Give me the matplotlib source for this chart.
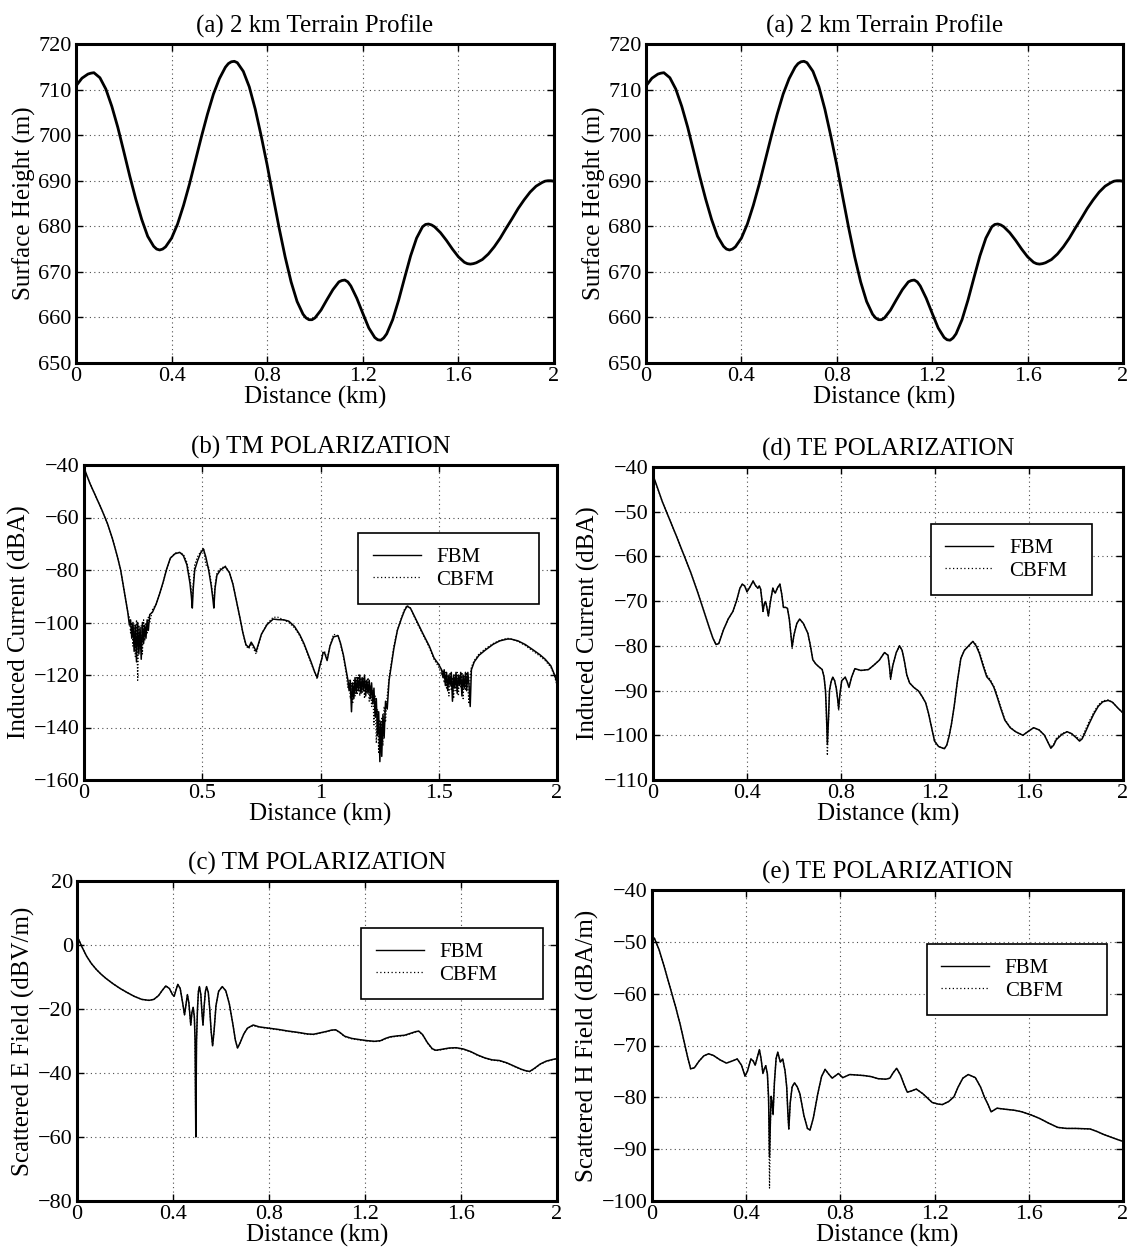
import matplotlib
matplotlib.use('Agg')
import matplotlib.pyplot as plt
from matplotlib.lines import Line2D

plt.rcParams['font.family'] = 'Liberation Serif'
plt.rcParams['axes.unicode_minus'] = True

# ---------------- data ----------------
# (a) terrain profile, km / m
terrain_x = [0.000, 0.025, 0.050, 0.0625, 0.075, 0.100, 0.125, 0.150, 0.175, 0.200,
             0.225, 0.250, 0.275, 0.300, 0.325, 0.3375, 0.350, 0.3625, 0.375, 0.400,
             0.425, 0.450, 0.475, 0.500, 0.525, 0.550, 0.575, 0.600, 0.625, 0.6375,
             0.650, 0.6625, 0.675, 0.700, 0.725, 0.750, 0.775, 0.800, 0.825, 0.850,
             0.875, 0.900, 0.925, 0.950, 0.9625, 0.975, 0.9875, 1.000, 1.025, 1.050,
             1.075, 1.100, 1.1125, 1.125, 1.1375, 1.150, 1.175, 1.200, 1.225, 1.250,
             1.2625, 1.275, 1.2875, 1.300, 1.325, 1.350, 1.375, 1.400, 1.425, 1.450,
             1.4625, 1.475, 1.4875, 1.500, 1.525, 1.550, 1.575, 1.600, 1.625, 1.6375,
             1.650, 1.6625, 1.675, 1.700, 1.725, 1.750, 1.775, 1.800, 1.825, 1.850,
             1.875, 1.900, 1.925, 1.950, 1.9625, 1.975, 1.9875, 2.000]
terrain_h = [710.8, 712.5, 713.4, 713.6, 713.7, 712.6, 710.1, 706.3, 701.7, 696.4,
             691.0, 686.0, 681.5, 677.8, 675.6, 675.0, 674.8, 675.0, 675.5, 677.4,
             680.5, 684.6, 689.3, 694.5, 699.7, 704.6, 709.0, 712.4, 714.9, 715.7,
             716.1, 716.2, 715.9, 714.0, 710.6, 705.7, 699.8, 693.4, 686.4, 679.6,
             673.3, 667.8, 663.5, 660.7, 659.9, 659.5, 659.5, 659.9, 661.6, 663.9,
             666.1, 667.8, 668.1, 668.2, 667.8, 666.9, 664.2, 660.9, 657.7, 655.6,
             655.1, 655.0, 655.5, 656.4, 659.5, 663.8, 668.7, 673.5, 677.4, 679.9,
             680.4, 680.5, 680.3, 679.9, 678.6, 676.9, 675.0, 673.3, 672.1, 671.8,
             671.7, 671.8, 672.0, 672.7, 673.9, 675.5, 677.4, 679.6, 681.7, 683.9,
             685.8, 687.5, 688.8, 689.6, 689.9, 690.0, 690.0, 689.9]

# (b) TM induced current, dBA
tm_cur_x = [0.000, 0.010, 0.025, 0.050, 0.075, 0.100, 0.120, 0.140, 0.155, 0.170,
            0.185, 0.192, 0.197, 0.202, 0.207, 0.212, 0.217, 0.222, 0.227, 0.232,
            0.237, 0.242, 0.247, 0.252, 0.257, 0.262, 0.267, 0.272, 0.278, 0.290,
            0.305, 0.320, 0.335, 0.350, 0.365, 0.385, 0.405, 0.420, 0.435, 0.448,
            0.454, 0.458, 0.462, 0.468, 0.480, 0.493, 0.505, 0.515, 0.527, 0.538,
            0.545, 0.549, 0.554, 0.562, 0.577, 0.597, 0.615, 0.630, 0.645, 0.660,
            0.672, 0.685, 0.697, 0.707, 0.717, 0.728, 0.738, 0.750, 0.774, 0.800,
            0.820, 0.845, 0.866, 0.890, 0.912, 0.930, 0.945, 0.960, 0.975, 0.986,
            0.996, 1.005, 1.011, 1.017, 1.028, 1.040, 1.055, 1.074, 1.085, 1.097,
            1.108, 1.116, 1.121, 1.126, 1.131, 1.136, 1.141, 1.146, 1.151, 1.156,
            1.161, 1.166, 1.171, 1.176, 1.181, 1.186, 1.191, 1.196, 1.201, 1.206,
            1.211, 1.216, 1.221, 1.226, 1.231, 1.236, 1.241, 1.246, 1.251, 1.255,
            1.259, 1.264, 1.269, 1.275, 1.282, 1.290, 1.300, 1.310, 1.325, 1.343,
            1.355, 1.366, 1.380, 1.390, 1.410, 1.435, 1.460, 1.480, 1.500, 1.512,
            1.518, 1.523, 1.528, 1.533, 1.538, 1.543, 1.548, 1.553, 1.558, 1.563,
            1.568, 1.573, 1.578, 1.583, 1.588, 1.593, 1.598, 1.603, 1.608, 1.613,
            1.618, 1.623, 1.628, 1.633, 1.638, 1.650, 1.670, 1.697, 1.730, 1.758,
            1.790, 1.805, 1.835, 1.866, 1.900, 1.928, 1.950, 1.974, 1.990, 2.000]
tm_cur_fbm = [-41, -43.5, -47, -52, -57, -62.5, -68, -74.5, -80, -88,
              -96, -101, -99, -106, -100, -111, -101, -115, -100, -112,
              -102, -114, -100, -108, -101, -106, -99, -103, -97, -96,
              -93, -89, -84.5, -79.5, -75.5, -73.8, -73.3, -74.5, -78, -85,
              -90, -94.5, -87, -80, -76.5, -73.5, -72, -75, -80, -86,
              -91, -94.5, -87, -82, -80, -78.7, -81, -85.5, -92, -98.5,
              -104, -108.5, -109.5, -107.5, -109, -111, -108, -104.5, -100.8, -98.7,
              -98.9, -99, -99.5, -101.5, -104.6, -108, -111.5, -115, -118.8, -121,
              -117, -114, -111.5, -111.5, -114.5, -109, -105.5, -105, -108, -112.5,
              -118, -122, -126, -122, -134, -123, -129, -121, -127, -121,
              -126, -120, -127, -121, -126, -120, -128, -122, -127, -122,
              -129, -123, -131, -125, -136, -129, -143, -134, -153, -138,
              -151, -135, -144, -130, -133, -122, -116, -110, -103, -98.3,
              -95.5, -93.8, -94.5, -96.3, -100, -104.6, -109, -113.5, -116, -118,
              -121, -118, -124, -119, -126, -120, -124, -119, -130, -120,
              -125, -119, -127, -120, -124, -119, -128, -120, -125, -119,
              -126, -119, -124, -132, -118, -115, -112.5, -110.5, -108.3, -107,
              -106.3, -106.3, -107, -108.4, -110.5, -112.3, -114, -116.5, -120, -123]
tm_cur_cbfm = [-41, -43.5, -47, -52, -57, -62.5, -68, -74.5, -80, -88,
               -96, -98, -104, -100, -109, -101, -113, -99, -122, -101,
               -110, -101, -112, -99, -107, -100, -104, -98, -100, -95,
               -93, -89, -84.5, -79.5, -75.5, -73.5, -73.3, -74, -77, -83,
               -88, -91, -85, -78, -75, -73, -71.5, -78, -79, -85,
               -90, -92, -86, -81, -79.5, -78.5, -81, -85.5, -92, -98.5,
               -104, -109, -110, -108, -110, -112, -108.5, -104.5, -100.5, -98,
               -98, -99, -100, -102, -105, -108.5, -112, -115.5, -119, -121.5,
               -117, -114, -111, -111, -114, -109, -104.5, -105, -108.5, -113,
               -119, -125, -122, -129, -123, -131, -122, -128, -121, -127,
               -120, -128, -121, -127, -121, -129, -122, -127, -121, -130,
               -124, -132, -126, -139, -128, -146, -133, -150, -137, -149,
               -136, -147, -132, -138, -128, -121, -115, -109, -103, -98,
               -95, -93.5, -94.5, -96.5, -100.5, -105, -109.5, -114, -117, -120,
               -118, -123, -119, -125, -120, -128, -119, -126, -121, -129,
               -120, -126, -119, -128, -120, -125, -119, -129, -120, -126,
               -119, -125, -131, -120, -117, -114.5, -112, -110, -108, -106.8,
               -106, -106.3, -107.2, -108.8, -111, -112.8, -114.5, -117, -120.5, -124]

# (d) TE induced current, dBA
te_cur_x = [0.000, 0.020, 0.040, 0.065, 0.100, 0.130, 0.160, 0.190, 0.215, 0.240,
            0.255, 0.268, 0.280, 0.300, 0.320, 0.340, 0.355, 0.370, 0.380, 0.390,
            0.400, 0.413, 0.426, 0.436, 0.446, 0.452, 0.458, 0.463, 0.468, 0.474,
            0.479, 0.485, 0.491, 0.500, 0.510, 0.515, 0.520, 0.530, 0.540, 0.548,
            0.555, 0.565, 0.572, 0.580, 0.587, 0.592, 0.600, 0.612, 0.624, 0.640,
            0.659, 0.670, 0.680, 0.692, 0.704, 0.720, 0.728, 0.734, 0.738, 0.742,
            0.747, 0.751, 0.758, 0.765, 0.773, 0.780, 0.786, 0.790, 0.795, 0.803,
            0.818, 0.826, 0.834, 0.845, 0.859, 0.885, 0.917, 0.940, 0.963, 0.985,
            1.000, 1.006, 1.011, 1.020, 1.035, 1.049, 1.060, 1.069, 1.080, 1.092,
            1.110, 1.130, 1.145, 1.160, 1.172, 1.184, 1.198, 1.215, 1.229, 1.240,
            1.250, 1.260, 1.270, 1.282, 1.295, 1.310, 1.325, 1.343, 1.361, 1.375,
            1.389, 1.405, 1.420, 1.435, 1.450, 1.465, 1.480, 1.497, 1.520, 1.543,
            1.574, 1.600, 1.620, 1.643, 1.666, 1.680, 1.693, 1.705, 1.716, 1.740,
            1.762, 1.780, 1.800, 1.815, 1.826, 1.838, 1.855, 1.876, 1.895, 1.914,
            1.937, 1.955, 1.980, 2.000]
te_cur_fbm = [-41.8, -44.8, -47.8, -51, -55.5, -59.5, -63.5, -68, -72, -76,
              -78.3, -79.7, -79.5, -76.4, -74, -72.3, -70, -67.1, -66.2, -66.6,
              -67.9, -66.8, -65.5, -66.5, -67.1, -66.6, -67.3, -69.5, -72.3, -70.5,
              -70.1, -71.5, -73.3, -70, -67.1, -67.8, -68.2, -67, -66.2, -68.5,
              -71.4, -71.4, -71.6, -74, -77.5, -80.2, -77.5, -75, -74, -75,
              -77.2, -80, -83.1, -84, -84.6, -85.3, -87, -90, -95, -102,
              -96, -90, -88, -87, -87.8, -89.5, -92, -94, -91, -87.8,
              -87, -88, -89.3, -87, -85.1, -85.5, -85.3, -84.3, -83.2, -81.5,
              -82.1, -84.5, -87.3, -84.5, -81.5, -80, -81, -83.2, -86.5, -88.3,
              -89.3, -90.1, -91.3, -92.7, -95, -97.9, -101.3, -102.5, -102.8, -103,
              -102.2, -100.2, -97.5, -93.4, -88, -82.8, -81, -80, -79, -80,
              -81.7, -84.5, -86.9, -87.8, -89.2, -91.5, -94, -96.6, -98.3, -99.2,
              -100, -99, -98.3, -98.8, -100, -101.5, -102.9, -102.2, -101, -99.8,
              -99.2, -99.6, -100.5, -101.3, -100.8, -99.5, -97.5, -95.2, -93.5, -92.5,
              -92.2, -92.6, -94, -95]
te_cur_cbfm = [-41.8, -44.8, -47.8, -51, -55.5, -59.5, -63.5, -68, -72, -76,
               -78.3, -79.7, -79.5, -76.4, -74, -72.3, -70, -67.1, -66.2, -66.6,
               -67.9, -66.8, -65.5, -66.5, -67.1, -66.6, -67.3, -69.5, -72.3, -70.5,
               -70.1, -71.5, -73.3, -70, -67.1, -67.8, -68.2, -67, -66.2, -68.5,
               -71.4, -71.4, -71.6, -74, -77.5, -80.6, -77.5, -75, -74, -75,
               -77.2, -80, -83.1, -84, -84.6, -85.3, -87, -90, -96, -104.5,
               -96, -90, -88, -87, -87.8, -89.5, -92, -94.5, -91, -87.8,
               -87, -88, -89.3, -87, -85.1, -85.5, -85.3, -84.3, -83.2, -81.5,
               -82.1, -84.5, -87.5, -84.5, -81.5, -80, -81, -83.2, -86.5, -88.3,
               -89.3, -90.1, -91.3, -92.7, -95, -97.9, -101.3, -102.5, -102.8, -103,
               -102.2, -100.2, -97.5, -93.4, -88, -82.8, -81, -80, -79, -79.7,
               -81.3, -84, -86.5, -87.5, -89, -91.2, -93.7, -96.4, -98.2, -99.2,
               -100, -99, -98.3, -98.8, -100, -101.5, -102.6, -102, -100.7, -99.6,
               -99.2, -99.6, -100.3, -100.9, -100.4, -99, -97, -94.8, -93.2, -92.3,
               -92.1, -92.6, -94, -95]

# (c) TM scattered E field, dBV/m
tm_fld_x = [0.000, 0.010, 0.020, 0.040, 0.060, 0.080, 0.100, 0.120, 0.150, 0.180,
            0.210, 0.240, 0.270, 0.300, 0.320, 0.340, 0.355, 0.370, 0.385, 0.398,
            0.405, 0.412, 0.420, 0.430, 0.440, 0.448, 0.455, 0.460, 0.466, 0.474,
            0.479, 0.484, 0.489, 0.492, 0.495, 0.498, 0.502, 0.506, 0.510, 0.516,
            0.521, 0.525, 0.530, 0.535, 0.540, 0.547, 0.553, 0.559, 0.565, 0.571,
            0.579, 0.590, 0.605, 0.620, 0.635, 0.650, 0.660, 0.669, 0.680, 0.695,
            0.710, 0.734, 0.760, 0.800, 0.840, 0.880, 0.920, 0.960, 0.985, 1.010,
            1.040, 1.060, 1.078, 1.095, 1.115, 1.145, 1.180, 1.210, 1.240, 1.265,
            1.285, 1.305, 1.335, 1.365, 1.390, 1.410, 1.424, 1.440, 1.460, 1.480,
            1.495, 1.520, 1.550, 1.580, 1.610, 1.640, 1.670, 1.700, 1.730, 1.760,
            1.790, 1.820, 1.850, 1.870, 1.886, 1.905, 1.930, 1.955, 1.980, 2.000]
tm_fld_fbm = [2.8, 1.2, -0.5, -3.5, -5.8, -7.6, -9.1, -10.4, -12.1, -13.6,
              -14.9, -16.1, -17, -17.3, -17, -15.8, -14.2, -12.8, -13.6, -15.5,
              -16, -14.2, -12.3, -13.6, -18, -21.8, -18.2, -15.5, -18, -25,
              -21, -19.5, -22.5, -30, -60, -30, -20, -14.5, -13, -15.5,
              -21.5, -25, -19, -14.5, -13, -14.8, -20, -27, -31.5, -27,
              -19, -14.5, -13, -14.3, -18.5, -25, -29.8, -32.2, -30.5, -27.8,
              -26, -25, -25.6, -26, -26.4, -26.9, -27.3, -27.8, -27.9, -27.5,
              -27, -26.6, -26.5, -27.3, -28.5, -29.2, -29.6, -29.9, -30.1, -29.9,
              -29.2, -28.7, -28.4, -28.2, -27.6, -27.1, -26.9, -28, -30.5, -32.4,
              -32.9, -32.6, -32.2, -32.1, -32.5, -33.3, -34.4, -35.3, -35.9, -36.1,
              -36.8, -37.8, -38.8, -39.3, -39.5, -38.6, -37.2, -36.3, -35.8, -35.5]
tm_fld_cbfm = [2.8, 1.2, -0.5, -3.5, -5.8, -7.6, -9.1, -10.4, -12.1, -13.6,
               -14.9, -16.1, -17, -17.3, -17, -15.8, -14.2, -12.8, -13.6, -15.5,
               -16, -14.2, -12.3, -13.6, -18, -21.8, -18.2, -15.5, -18, -25,
               -21, -19.5, -22.5, -30, -60, -30, -20, -14.5, -13, -15.5,
               -21.5, -25, -19, -14.5, -13, -14.8, -20, -27, -31.5, -27,
               -19, -14.5, -13, -14.3, -18.5, -25, -29.8, -32.2, -30.5, -27.8,
               -26, -25.2, -25.7, -26.1, -26.5, -27, -27.4, -27.9, -28, -27.6,
               -27.1, -26.7, -26.6, -27.4, -28.6, -29.3, -29.7, -30, -30.2, -30,
               -29.3, -28.8, -28.5, -28.3, -27.7, -27.2, -27, -28.1, -30.6, -32.5,
               -33, -32.7, -32.3, -32.2, -32.6, -33.4, -34.5, -35.4, -36, -36.2,
               -36.9, -37.9, -38.9, -39.4, -39.6, -38.7, -37.3, -36.4, -35.9, -35.6]

# (e) TE scattered H field, dBA/m
te_fld_x = [0.000, 0.010, 0.030, 0.050, 0.075, 0.100, 0.120, 0.135, 0.150, 0.164,
            0.180, 0.200, 0.220, 0.240, 0.260, 0.290, 0.316, 0.340, 0.362, 0.380,
            0.395, 0.405, 0.420, 0.430, 0.438, 0.446, 0.456, 0.463, 0.471, 0.477,
            0.483, 0.490, 0.495, 0.499, 0.503, 0.506, 0.510, 0.514, 0.520, 0.527,
            0.534, 0.545, 0.555, 0.565, 0.572, 0.577, 0.581, 0.587, 0.595, 0.605,
            0.617, 0.628, 0.645, 0.660, 0.671, 0.685, 0.704, 0.720, 0.735, 0.750,
            0.765, 0.780, 0.792, 0.810, 0.840, 0.870, 0.900, 0.930, 0.960, 0.993,
            1.010, 1.025, 1.039, 1.055, 1.070, 1.084, 1.100, 1.122, 1.150, 1.190,
            1.215, 1.233, 1.260, 1.282, 1.300, 1.320, 1.343, 1.373, 1.395, 1.411,
            1.428, 1.440, 1.465, 1.500, 1.540, 1.571, 1.610, 1.647, 1.685, 1.723,
            1.760, 1.800, 1.860, 1.890, 1.920, 1.950, 1.980, 2.000]
te_fld_fbm = [-49, -49.3, -51.5, -54.5, -58.5, -62.5, -66, -69, -72, -74.5,
              -74.3, -73, -72, -71.6, -71.9, -72.8, -73.4, -73, -72.6, -73.8,
              -75.9, -75, -72.6, -73, -73.8, -72.5, -70.8, -72.5, -75.4, -74.5,
              -73.9, -75.5, -80, -91.5, -84, -79.8, -81, -83.2, -77, -72.5,
              -71.3, -73.2, -72.6, -74.9, -78, -83, -86.1, -81, -78, -77.2,
              -78, -79.3, -83.5, -86, -86.3, -84, -79.3, -76, -74.6, -75.5,
              -76.3, -75.8, -75.4, -76.2, -75.6, -75.7, -75.8, -76, -76.4, -76.5,
              -76.3, -75.2, -74.4, -75.7, -77.5, -79, -78.8, -78.4, -79.3, -81,
              -81.3, -81.4, -80.8, -79.9, -78, -76.3, -75.6, -76.2, -78, -79.9,
              -81.5, -82.8, -82.1, -82.3, -82.5, -82.8, -83.4, -84.1, -85, -85.8,
              -86, -86, -86.1, -86.6, -87.2, -87.7, -88.2, -88.5]
te_fld_cbfm = [-49, -49.3, -51.5, -54.5, -58.5, -62.5, -66, -69, -72, -74.5,
               -74.3, -73, -72, -71.6, -71.9, -72.8, -73.4, -73, -72.6, -73.8,
               -75.9, -75, -72.6, -73, -73.8, -72.5, -70.8, -72.5, -75.4, -74.5,
               -73.9, -75.5, -81, -97.5, -85, -79.8, -81, -83.5, -77, -72.5,
               -71.3, -73.2, -72.6, -74.9, -78, -83, -86.3, -81, -78, -77.2,
               -78, -79.3, -83.5, -86, -86.3, -84, -79.3, -76, -74.6, -75.5,
               -76.3, -75.8, -75.4, -76.2, -75.6, -75.7, -75.8, -76, -76.4, -76.5,
               -76.3, -75.2, -74.4, -75.7, -77.5, -79, -78.8, -78.4, -79.3, -81,
               -81.3, -81.4, -80.8, -79.9, -78, -76.3, -75.6, -76.2, -78, -79.9,
               -81.5, -82.8, -82.1, -82.3, -82.5, -82.8, -83.4, -84.1, -85, -85.8,
               -86, -86, -86.1, -86.6, -87.2, -87.7, -88.2, -88.5]

km_ticks = [0, 0.4, 0.8, 1.2, 1.6, 2]
km_labels = ['0', '0.4', '0.8', '1.2', '1.6', '2']
half_ticks = [0, 0.5, 1, 1.5, 2]
half_labels = ['0', '0.5', '1', '1.5', '2']

W, H = 1128, 1253
fig = plt.figure(figsize=(W / 100, H / 100), dpi=100)


def place(l, t, r, b):
    return fig.add_axes([l / W, 1 - b / H, (r - l) / W, (b - t) / H])


def style(ax, title, ylabel, ylim, ystep, xt=km_ticks, xl=km_labels):
    ax.set_xlim(0, 2)
    ax.set_ylim(*ylim)
    ax.set_xticks(xt)
    ax.set_xticklabels(xl)
    yt = list(range(ylim[0], ylim[1] + 1, ystep))
    ax.set_yticks(yt)
    ax.set_yticklabels([str(v).replace('-', '\u2212') for v in yt])
    ax.grid(True, linestyle=(0, (1, 3)), color='0.3', linewidth=0.8)
    ax.tick_params(direction='in', length=5, width=1, top=True, right=True,
                   labelsize=16, pad=3)
    for s in ax.spines.values():
        s.set_linewidth(2.2)
    ax.set_title(title, fontsize=18, pad=8)
    ax.set_xlabel('Distance (km)', fontsize=18, labelpad=0)
    ax.set_ylabel(ylabel, fontsize=18, labelpad=2)


def legend(ax, x0, y0, w, h):
    handles = [Line2D([], [], color='k', lw=1.0),
               Line2D([], [], color='k', lw=0.9, linestyle=(0, (1, 2)))]
    leg = ax.legend(handles, ['FBM', 'CBFM'], bbox_to_anchor=(x0, y0, w, h),
                    loc='center', mode='expand', fontsize=15, fancybox=False,
                    framealpha=1, edgecolor='k', borderpad=0.7,
                    labelspacing=0.15, handlelength=2.3, handletextpad=0.75,
                    borderaxespad=0)
    leg.get_frame().set_linewidth(1.2)


# (a) terrain, twice
for l, r in [(76, 554), (646, 1123)]:
    ax = place(l, 44, r, 363)
    ax.plot(terrain_x, terrain_h, color='k', lw=2.0, solid_joinstyle='round')
    style(ax, '(a) 2 km Terrain Profile', 'Surface Height (m)', (650, 720), 10)

# (b) TM current
ax = place(84, 465, 557, 780)
ax.plot(tm_cur_x, tm_cur_fbm, color='k', lw=1.1)
ax.plot(tm_cur_x, tm_cur_cbfm, color='k', lw=0.9, linestyle=(0, (1, 1.5)))
style(ax, '(b) TM POLARIZATION', 'Induced Current (dBA)', (-160, -40), 20,
      half_ticks, half_labels)
legend(ax, 0.58, 0.552, 0.382, 0.238)

# (d) TE current
ax = place(653, 467, 1123, 780)
ax.plot(te_cur_x, te_cur_fbm, color='k', lw=1.1)
ax.plot(te_cur_x, te_cur_cbfm, color='k', lw=0.9, linestyle=(0, (1, 1.5)))
style(ax, '(d) TE POLARIZATION', 'Induced Current (dBA)', (-110, -40), 10)
legend(ax, 0.591, 0.591, 0.343, 0.227)

# (c) TM field
ax = place(77, 881, 557, 1201)
ax.plot(tm_fld_x, tm_fld_fbm, color='k', lw=1.1)
ax.plot(tm_fld_x, tm_fld_cbfm, color='k', lw=0.9, linestyle=(0, (1, 1.5)))
style(ax, '(c) TM POLARIZATION', 'Scattered E Field (dBV/m)', (-80, 20), 20)
legend(ax, 0.592, 0.625, 0.379, 0.234)

# (e) TE field
ax = place(652, 890, 1123, 1201)
ax.plot(te_fld_x, te_fld_fbm, color='k', lw=1.1)
ax.plot(te_fld_x, te_fld_cbfm, color='k', lw=0.9, linestyle=(0, (1, 1.5)))
style(ax, '(e) TE POLARIZATION', 'Scattered H Field (dBA/m)', (-100, -40), 10)
legend(ax, 0.583, 0.595, 0.382, 0.235)

fig.savefig('out.png', dpi=100)
